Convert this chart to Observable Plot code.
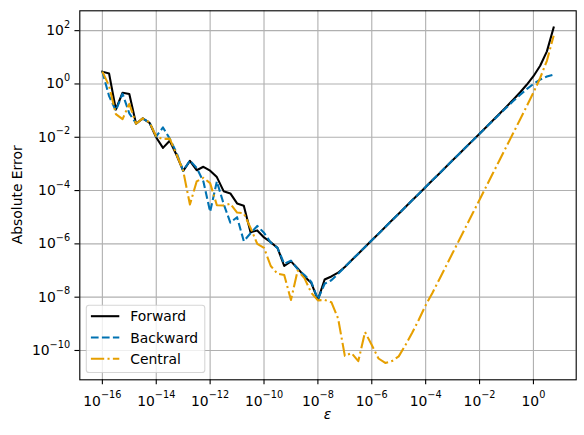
<!DOCTYPE html>
<html><head><meta charset="utf-8">
<script src="https://cdn.jsdelivr.net/npm/d3@7"></script>
<script src="https://cdn.jsdelivr.net/npm/@observablehq/plot@0.6"></script>
<style>
body{margin:0;background:#fff;}
#chart{position:relative;width:584px;height:435px;}
</style></head><body><div id="chart"></div>
<script>
const eps = [
 1e-16,1.778e-16,3.162e-16,5.623e-16, 1e-15,1.778e-15,3.162e-15,5.623e-15,
 1e-14,1.778e-14,3.162e-14,5.623e-14, 1e-13,1.778e-13,3.162e-13,5.623e-13,
 1e-12,1.778e-12,3.162e-12,5.623e-12, 1e-11,1.778e-11,3.162e-11,5.623e-11,
 1e-10,1.778e-10,3.162e-10,5.623e-10, 1e-9,1.778e-9,3.162e-9,5.623e-9,
 1e-8,1.778e-8,3.162e-8,5.623e-8, 1e-7,1.778e-7,3.162e-7,5.623e-7,
 1e-6,1.778e-6,3.162e-6,5.623e-6, 1e-5,1.778e-5,3.162e-5,5.623e-5,
 1e-4,1.778e-4,3.162e-4,5.623e-4, 1e-3,1.778e-3,3.162e-3,5.623e-3,
 1e-2,1.778e-2,3.162e-2,5.623e-2, 1e-1,1.778e-1,3.162e-1,5.623e-1,
 1,1.778,3.162,5.623];

const forward = [
 2.9, 2.45, 0.11, 0.47, 0.42, 0.032, 0.051, 0.035, 0.0098, 0.0040,
 0.0074, 0.0022, 5.5e-4, 1.3e-3, 5.8e-4, 7.8e-4, 5.6e-4, 3.2e-4, 9.5e-5, 7.8e-5,
 3.3e-5, 2.7e-5, 2.75e-6, 3.2e-6, 1.74e-6, 1.15e-6, 7.1e-7, 1.48e-7, 2.2e-7, 1.2e-7,
 6.0e-8, 3.5e-8, 7.9e-9, 4.6e-8, 6.0e-8, 8.3e-8, 1.36e-7, 2.42e-7, 4.30e-7, 7.64e-7,
 1.36e-6, 2.42e-6, 4.30e-6, 7.64e-6, 1.36e-5, 2.42e-5, 4.30e-5, 7.64e-5, 1.36e-4, 2.42e-4,
 4.30e-4, 7.64e-4, 1.36e-3, 2.42e-3, 4.30e-3, 7.65e-3, 0.01364, 0.02431, 0.04344, 0.0779,
 0.1406, 0.2567, 0.4789, 0.930, 1.952, 4.80, 16.73, 130.6];

const backward = [
 2.9, 0.35, 0.10, 0.43, 0.079, 0.033, 0.050, 0.036, 0.0107, 0.0234,
 0.0089, 0.0027, 5.5e-4, 1.35e-3, 7.1e-4, 2.2e-4, 1.6e-5, 2.2e-4, 3.2e-5, 6.3e-6,
 1.0e-5, 1.26e-6, 2.5e-6, 4.7e-6, 2.6e-6, 1.12e-6, 7.1e-7, 1.78e-7, 2.35e-7, 1.12e-7,
 6.8e-8, 3.8e-8, 8.3e-9, 3.2e-8, 4.3e-8, 7.6e-8, 1.36e-7, 2.42e-7, 4.30e-7, 7.64e-7,
 1.36e-6, 2.42e-6, 4.30e-6, 7.64e-6, 1.36e-5, 2.42e-5, 4.30e-5, 7.64e-5, 1.36e-4, 2.42e-4,
 4.30e-4, 7.64e-4, 1.36e-3, 2.42e-3, 4.29e-3, 7.63e-3, 0.01355, 0.02403, 0.04253, 0.0750,
 0.1315, 0.2280, 0.3879, 0.639, 1.0, 1.448, 1.895, 2.237];

const central = [
 2.9, 0.85, 0.074, 0.048, 0.18, 0.032, 0.051, 0.036, 0.0107, 0.0085,
 0.0089, 0.0023, 5.5e-4, 3.0e-5, 2.2e-4, 3.0e-4, 1.9e-4, 2.8e-5, 2.75e-5, 3.2e-5,
 1.5e-5, 1.4e-5, 4.0e-6, 1.0e-6, 7.1e-7, 1.48e-7, 7.6e-8, 6.8e-8, 7.9e-9, 1.0e-7,
 5.2e-8, 1.48e-8, 7.6e-9, 7.9e-9, 6.5e-9, 1.6e-9, 6.3e-11, 7.9e-11, 4.0e-11, 4.9e-10,
 1.6e-10, 5.0e-11, 3.4e-11, 4.0e-11, 6.0e-11, 1.6e-10, 4.6e-10, 1.45e-9, 5.0e-9, 1.43e-8,
 4.53e-8, 1.43e-7, 4.53e-7, 1.43e-6, 4.53e-6, 1.43e-5, 4.53e-5, 1.433e-4, 4.53e-4, 1.433e-3,
 4.53e-3, 0.01435, 0.0455, 0.1456, 0.476, 1.677, 7.42, 64.2];

const seriesNames = ["Forward", "Backward", "Central"];
const seriesColors = ["#000000", "#0072B2", "#E69F00"];
const seriesDash = [null, "7.7,3.3", "13.3,3.3,2.08,3.3"];
const xTicks = [1e-16,1e-14,1e-12,1e-10,1e-8,1e-6,1e-4,1e-2,1e0];
const yTicks = [1e-10,1e-8,1e-6,1e-4,1e-2,1e0,1e2];
const xLabel = "ε";
const yLabel = "Absolute Error";

const seriesValues = [forward, backward, central];
const tables = seriesValues.map((vals, s) => eps.map((e, i) => ({eps: e, value: vals[i], series: seriesNames[s]})));

const fmt = d => "10^" + Math.round(Math.log10(d));
const gridStyle = {stroke: "#b0b0b0", strokeOpacity: 1, strokeWidth: 1.11};

const lineMarks = tables.map((t, s) => Plot.line(t, {
  x: "eps", y: "value",
  stroke: seriesColors[s], strokeWidth: 2.08,
  strokeDasharray: seriesDash[s] || undefined,
  strokeLinejoin: "round", strokeLinecap: s === 0 ? "square" : "butt"
}));

const chart = Plot.plot({
  width: 584, height: 435,
  marginLeft: 79.3, marginRight: 8.3, marginTop: 10.3, marginBottom: 55.7,
  style: {fontFamily: "DejaVu Sans", fontSize: "13.9px", background: "#fff", color: "#000", overflow: "visible"},
  x: {type: "log", domain: [10 ** -16.8375, 10 ** 1.5875]},
  y: {type: "log", domain: [10 ** -11.1, 10 ** 2.745]},
  marks: [
    Plot.gridX(xTicks, gridStyle),
    Plot.gridY(yTicks, gridStyle),
    ...lineMarks,
    Plot.frame({stroke: "#000", strokeWidth: 1.11}),
    Plot.axisX(xTicks, {tickFormat: fmt, tickSize: 4.86, tickPadding: 11, label: null, strokeWidth: 1.11}),
    Plot.axisY(yTicks, {tickFormat: fmt, tickSize: 4.86, tickPadding: 4.84, label: null, strokeWidth: 1.11})
  ]
});

const svg = d3.select(chart);
// superscript tick labels
svg.selectAll("text").each(function() {
  const t = this.textContent;
  const m = t.match(/^10\^(-?\d+)$/);
  if (!m) return;
  const el = d3.select(this);
  el.text("");
  el.append("tspan").text("10");
  el.append("tspan").attr("font-size", "9.73px").attr("dy", -7.4).text(m[1].replace("-", "\u2212"));
});

// axis labels
svg.append("text").attr("x", 327.5).attr("y", 419).attr("text-anchor", "middle")
  .attr("font-style", "italic").attr("font-size", "13.9px").attr("fill", "#000").text(xLabel);
svg.append("text").attr("transform", "translate(22,194.8) rotate(-90)").attr("text-anchor", "middle")
  .attr("font-size", "13.9px").attr("fill", "#000").text(yLabel);

// legend
const lg = svg.append("g").attr("text-anchor", "start");
lg.append("rect").attr("x", 86.3).attr("y", 305.3).attr("width", 118.5).attr("height", 67.2)
  .attr("rx", 2.8).attr("ry", 2.8)
  .style("fill", "#ffffff").style("fill-opacity", 0.8)
  .style("stroke", "#cccccc").style("stroke-opacity", 0.8).style("stroke-width", "1.1px");
seriesNames.forEach((name, s) => {
  const cy = 316.2 + s * 21.3;
  const ln = lg.append("line").attr("x1", 90.9).attr("x2", 119.3).attr("y1", cy).attr("y2", cy)
    .style("stroke", seriesColors[s]).style("stroke-width", "2.08px");
  if (seriesDash[s]) ln.style("stroke-dasharray", seriesDash[s]);
  lg.append("text").attr("x", 130.3).attr("y", cy + 5).attr("text-anchor", "start")
    .attr("font-size", "13.9px").style("fill", "#000").text(name);
});

document.getElementById("chart").appendChild(chart);
</script></body></html>
